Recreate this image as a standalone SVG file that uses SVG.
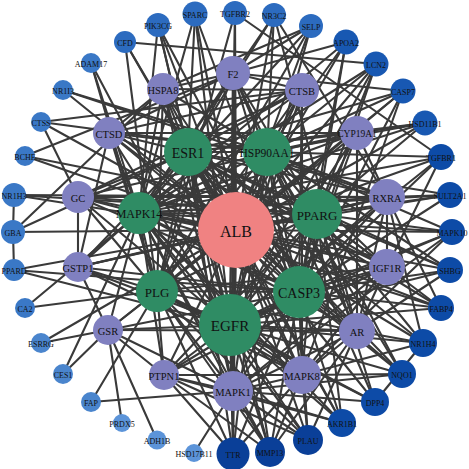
<svg xmlns="http://www.w3.org/2000/svg" width="469" height="469" viewBox="0 0 469 469">
<style>
#edges line{stroke:#3a3a3a;stroke-width:2.1;stroke-linecap:round}
text{font-family:"Liberation Serif","Times New Roman",serif;fill:#111;text-anchor:middle;dominant-baseline:central}
.alb{fill:#f08282}
.grn{fill:#2f8c64}
.pur{fill:#8080c0}
.b1{fill:#0a3f98}
.b2{fill:#0d4ba7}
.b3{fill:#1858b2}
.b4{fill:#2c6bbf}
.b5{fill:#3a78c6}
.b6{fill:#4a85cd}
.b7{fill:#5c94d9}
.s{font-size:8px}
.m{font-size:10.5px}
</style>
<rect width="469" height="469" fill="#fff"/>
<g id="edges">
<line x1="236" y1="230" x2="188" y2="152"/><line x1="236" y1="230" x2="267" y2="152"/><line x1="236" y1="230" x2="139" y2="213"/><line x1="236" y1="230" x2="317" y2="214"/><line x1="236" y1="230" x2="157" y2="291"/><line x1="236" y1="230" x2="299" y2="292"/><line x1="236" y1="230" x2="230" y2="325"/>
<line x1="188" y1="152" x2="267" y2="152"/><line x1="188" y1="152" x2="139" y2="213"/><line x1="188" y1="152" x2="317" y2="214"/><line x1="188" y1="152" x2="157" y2="291"/><line x1="188" y1="152" x2="299" y2="292"/><line x1="188" y1="152" x2="230" y2="325"/>
<line x1="267" y1="152" x2="139" y2="213"/><line x1="267" y1="152" x2="317" y2="214"/><line x1="267" y1="152" x2="157" y2="291"/><line x1="267" y1="152" x2="299" y2="292"/><line x1="267" y1="152" x2="230" y2="325"/>
<line x1="139" y1="213" x2="317" y2="214"/><line x1="139" y1="213" x2="157" y2="291"/><line x1="139" y1="213" x2="299" y2="292"/><line x1="139" y1="213" x2="230" y2="325"/>
<line x1="317" y1="214" x2="157" y2="291"/><line x1="317" y1="214" x2="299" y2="292"/><line x1="317" y1="214" x2="230" y2="325"/>
<line x1="157" y1="291" x2="299" y2="292"/><line x1="157" y1="291" x2="230" y2="325"/><line x1="299" y1="292" x2="230" y2="325"/>
<line x1="236" y1="230" x2="163" y2="89"/><line x1="236" y1="230" x2="233" y2="73"/><line x1="236" y1="230" x2="302" y2="90"/><line x1="236" y1="230" x2="109" y2="133"/><line x1="236" y1="230" x2="357" y2="133"/><line x1="236" y1="230" x2="78" y2="197"/><line x1="236" y1="230" x2="387" y2="197"/><line x1="236" y1="230" x2="78" y2="267"/><line x1="236" y1="230" x2="387" y2="267"/><line x1="236" y1="230" x2="108" y2="330"/><line x1="236" y1="230" x2="357" y2="331"/><line x1="236" y1="230" x2="164" y2="375"/><line x1="236" y1="230" x2="302" y2="375"/><line x1="236" y1="230" x2="233" y2="391"/>
<line x1="236" y1="230" x2="235" y2="13"/><line x1="236" y1="230" x2="274" y2="15"/><line x1="236" y1="230" x2="311" y2="26"/><line x1="236" y1="230" x2="346" y2="42"/><line x1="236" y1="230" x2="376" y2="64"/><line x1="236" y1="230" x2="403" y2="91"/><line x1="236" y1="230" x2="425" y2="123"/><line x1="236" y1="230" x2="441" y2="157"/><line x1="236" y1="230" x2="450" y2="195"/><line x1="236" y1="230" x2="452" y2="232"/><line x1="236" y1="230" x2="450" y2="270"/><line x1="236" y1="230" x2="441" y2="308"/><line x1="236" y1="230" x2="423" y2="343"/><line x1="236" y1="230" x2="402" y2="374"/><line x1="236" y1="230" x2="375" y2="402"/><line x1="236" y1="230" x2="342" y2="423"/><line x1="236" y1="230" x2="308" y2="440"/><line x1="236" y1="230" x2="270" y2="452"/><line x1="236" y1="230" x2="233" y2="454"/><line x1="236" y1="230" x2="63" y2="90"/><line x1="236" y1="230" x2="13" y2="232"/><line x1="236" y1="230" x2="14" y2="270"/><line x1="236" y1="230" x2="14" y2="195"/><line x1="236" y1="230" x2="125" y2="42"/><line x1="236" y1="230" x2="195" y2="14"/><line x1="236" y1="230" x2="158" y2="25"/><line x1="236" y1="230" x2="41" y2="343"/><line x1="236" y1="230" x2="41" y2="122"/><line x1="236" y1="230" x2="25" y2="156"/>
<line x1="163" y1="89" x2="188" y2="152"/><line x1="163" y1="89" x2="267" y2="152"/><line x1="163" y1="89" x2="230" y2="325"/><line x1="163" y1="89" x2="139" y2="213"/><line x1="163" y1="89" x2="299" y2="292"/><line x1="163" y1="89" x2="157" y2="291"/>
<line x1="233" y1="73" x2="157" y2="291"/><line x1="233" y1="73" x2="230" y2="325"/><line x1="233" y1="73" x2="188" y2="152"/><line x1="233" y1="73" x2="267" y2="152"/><line x1="233" y1="73" x2="139" y2="213"/><line x1="233" y1="73" x2="299" y2="292"/><line x1="233" y1="73" x2="317" y2="214"/>
<line x1="302" y1="90" x2="299" y2="292"/><line x1="302" y1="90" x2="267" y2="152"/><line x1="302" y1="90" x2="188" y2="152"/><line x1="302" y1="90" x2="157" y2="291"/><line x1="302" y1="90" x2="230" y2="325"/><line x1="302" y1="90" x2="139" y2="213"/>
<line x1="109" y1="133" x2="188" y2="152"/><line x1="109" y1="133" x2="267" y2="152"/><line x1="109" y1="133" x2="230" y2="325"/><line x1="109" y1="133" x2="299" y2="292"/><line x1="109" y1="133" x2="157" y2="291"/><line x1="109" y1="133" x2="139" y2="213"/>
<line x1="357" y1="133" x2="188" y2="152"/><line x1="357" y1="133" x2="267" y2="152"/><line x1="357" y1="133" x2="317" y2="214"/><line x1="357" y1="133" x2="299" y2="292"/><line x1="357" y1="133" x2="230" y2="325"/><line x1="357" y1="133" x2="139" y2="213"/>
<line x1="78" y1="197" x2="139" y2="213"/><line x1="78" y1="197" x2="188" y2="152"/><line x1="78" y1="197" x2="317" y2="214"/><line x1="78" y1="197" x2="157" y2="291"/><line x1="78" y1="197" x2="230" y2="325"/><line x1="78" y1="197" x2="299" y2="292"/>
<line x1="387" y1="197" x2="317" y2="214"/><line x1="387" y1="197" x2="188" y2="152"/><line x1="387" y1="197" x2="267" y2="152"/><line x1="387" y1="197" x2="139" y2="213"/><line x1="387" y1="197" x2="230" y2="325"/><line x1="387" y1="197" x2="299" y2="292"/>
<line x1="78" y1="267" x2="157" y2="291"/><line x1="78" y1="267" x2="139" y2="213"/><line x1="78" y1="267" x2="188" y2="152"/><line x1="78" y1="267" x2="230" y2="325"/><line x1="78" y1="267" x2="299" y2="292"/><line x1="78" y1="267" x2="317" y2="214"/>
<line x1="387" y1="267" x2="230" y2="325"/><line x1="387" y1="267" x2="299" y2="292"/><line x1="387" y1="267" x2="317" y2="214"/><line x1="387" y1="267" x2="188" y2="152"/><line x1="387" y1="267" x2="267" y2="152"/><line x1="387" y1="267" x2="139" y2="213"/><line x1="387" y1="267" x2="157" y2="291"/>
<line x1="108" y1="330" x2="230" y2="325"/><line x1="108" y1="330" x2="157" y2="291"/><line x1="108" y1="330" x2="139" y2="213"/><line x1="108" y1="330" x2="299" y2="292"/>
<line x1="357" y1="331" x2="230" y2="325"/><line x1="357" y1="331" x2="299" y2="292"/><line x1="357" y1="331" x2="317" y2="214"/><line x1="357" y1="331" x2="188" y2="152"/><line x1="357" y1="331" x2="267" y2="152"/><line x1="357" y1="331" x2="139" y2="213"/><line x1="357" y1="331" x2="157" y2="291"/>
<line x1="164" y1="375" x2="230" y2="325"/><line x1="164" y1="375" x2="317" y2="214"/><line x1="164" y1="375" x2="157" y2="291"/><line x1="164" y1="375" x2="299" y2="292"/><line x1="164" y1="375" x2="139" y2="213"/>
<line x1="302" y1="375" x2="230" y2="325"/><line x1="302" y1="375" x2="299" y2="292"/><line x1="302" y1="375" x2="139" y2="213"/><line x1="302" y1="375" x2="157" y2="291"/><line x1="302" y1="375" x2="317" y2="214"/><line x1="302" y1="375" x2="188" y2="152"/><line x1="302" y1="375" x2="267" y2="152"/>
<line x1="233" y1="391" x2="230" y2="325"/><line x1="233" y1="391" x2="299" y2="292"/><line x1="233" y1="391" x2="157" y2="291"/><line x1="233" y1="391" x2="139" y2="213"/><line x1="233" y1="391" x2="188" y2="152"/><line x1="233" y1="391" x2="267" y2="152"/><line x1="233" y1="391" x2="317" y2="214"/>
<line x1="163" y1="89" x2="302" y2="90"/><line x1="163" y1="89" x2="109" y2="133"/><line x1="163" y1="89" x2="233" y2="73"/><line x1="163" y1="89" x2="233" y2="391"/><line x1="233" y1="73" x2="302" y2="90"/><line x1="233" y1="73" x2="109" y2="133"/><line x1="233" y1="73" x2="357" y2="331"/><line x1="233" y1="73" x2="233" y2="391"/><line x1="302" y1="90" x2="109" y2="133"/><line x1="302" y1="90" x2="78" y2="197"/><line x1="302" y1="90" x2="302" y2="375"/><line x1="109" y1="133" x2="357" y2="133"/><line x1="109" y1="133" x2="78" y2="267"/><line x1="109" y1="133" x2="387" y2="267"/><line x1="357" y1="133" x2="357" y2="331"/><line x1="357" y1="133" x2="387" y2="197"/><line x1="357" y1="133" x2="78" y2="197"/><line x1="78" y1="197" x2="78" y2="267"/><line x1="78" y1="197" x2="387" y2="197"/><line x1="387" y1="197" x2="357" y2="331"/><line x1="387" y1="197" x2="387" y2="267"/><line x1="387" y1="197" x2="78" y2="267"/><line x1="78" y1="267" x2="108" y2="330"/><line x1="78" y1="267" x2="302" y2="375"/><line x1="387" y1="267" x2="233" y2="391"/><line x1="387" y1="267" x2="302" y2="375"/><line x1="387" y1="267" x2="357" y2="331"/><line x1="387" y1="267" x2="164" y2="375"/><line x1="108" y1="330" x2="233" y2="391"/><line x1="108" y1="330" x2="164" y2="375"/><line x1="108" y1="330" x2="357" y2="331"/><line x1="357" y1="331" x2="233" y2="391"/><line x1="357" y1="331" x2="302" y2="375"/><line x1="164" y1="375" x2="233" y2="391"/><line x1="164" y1="375" x2="302" y2="375"/><line x1="302" y1="375" x2="233" y2="391"/>
<line x1="195" y1="14" x2="188" y2="152"/><line x1="195" y1="14" x2="139" y2="213"/><line x1="195" y1="14" x2="299" y2="292"/><line x1="195" y1="14" x2="230" y2="325"/>
<line x1="235" y1="13" x2="230" y2="325"/><line x1="235" y1="13" x2="157" y2="291"/><line x1="235" y1="13" x2="441" y2="157"/><line x1="235" y1="13" x2="233" y2="391"/>
<line x1="274" y1="15" x2="267" y2="152"/><line x1="274" y1="15" x2="188" y2="152"/><line x1="274" y1="15" x2="357" y2="331"/><line x1="274" y1="15" x2="387" y2="197"/><line x1="274" y1="15" x2="139" y2="213"/>
<line x1="311" y1="26" x2="233" y2="73"/><line x1="311" y1="26" x2="157" y2="291"/><line x1="311" y1="26" x2="230" y2="325"/><line x1="311" y1="26" x2="139" y2="213"/><line x1="311" y1="26" x2="163" y2="89"/>
<line x1="346" y1="42" x2="233" y2="73"/><line x1="346" y1="42" x2="317" y2="214"/><line x1="346" y1="42" x2="267" y2="152"/><line x1="346" y1="42" x2="139" y2="213"/><line x1="346" y1="42" x2="299" y2="292"/>
<line x1="376" y1="64" x2="125" y2="42"/><line x1="376" y1="64" x2="317" y2="214"/><line x1="376" y1="64" x2="230" y2="325"/><line x1="376" y1="64" x2="139" y2="213"/><line x1="376" y1="64" x2="267" y2="152"/><line x1="376" y1="64" x2="299" y2="292"/>
<line x1="403" y1="91" x2="299" y2="292"/><line x1="403" y1="91" x2="267" y2="152"/><line x1="403" y1="91" x2="188" y2="152"/><line x1="403" y1="91" x2="233" y2="73"/><line x1="403" y1="91" x2="302" y2="375"/><line x1="403" y1="91" x2="157" y2="291"/>
<line x1="425" y1="123" x2="357" y2="133"/><line x1="425" y1="123" x2="317" y2="214"/><line x1="425" y1="123" x2="267" y2="152"/><line x1="425" y1="123" x2="188" y2="152"/><line x1="425" y1="123" x2="139" y2="213"/>
<line x1="441" y1="157" x2="230" y2="325"/><line x1="441" y1="157" x2="267" y2="152"/><line x1="441" y1="157" x2="139" y2="213"/><line x1="441" y1="157" x2="299" y2="292"/><line x1="441" y1="157" x2="387" y2="267"/>
<line x1="450" y1="195" x2="188" y2="152"/><line x1="450" y1="195" x2="317" y2="214"/><line x1="450" y1="195" x2="387" y2="197"/><line x1="450" y1="195" x2="299" y2="292"/><line x1="450" y1="195" x2="139" y2="213"/>
<line x1="452" y1="232" x2="302" y2="375"/><line x1="452" y1="232" x2="139" y2="213"/><line x1="452" y1="232" x2="233" y2="391"/><line x1="452" y1="232" x2="230" y2="325"/><line x1="452" y1="232" x2="299" y2="292"/><line x1="452" y1="232" x2="267" y2="152"/><line x1="452" y1="232" x2="317" y2="214"/>
<line x1="450" y1="270" x2="357" y2="331"/><line x1="450" y1="270" x2="188" y2="152"/><line x1="450" y1="270" x2="230" y2="325"/><line x1="450" y1="270" x2="299" y2="292"/><line x1="450" y1="270" x2="267" y2="152"/><line x1="450" y1="270" x2="317" y2="214"/>
<line x1="441" y1="308" x2="317" y2="214"/><line x1="441" y1="308" x2="387" y2="197"/><line x1="441" y1="308" x2="139" y2="213"/><line x1="441" y1="308" x2="188" y2="152"/><line x1="441" y1="308" x2="230" y2="325"/><line x1="441" y1="308" x2="299" y2="292"/>
<line x1="423" y1="343" x2="387" y2="197"/><line x1="423" y1="343" x2="317" y2="214"/><line x1="423" y1="343" x2="375" y2="402"/><line x1="423" y1="343" x2="357" y2="331"/><line x1="423" y1="343" x2="188" y2="152"/><line x1="423" y1="343" x2="302" y2="375"/><line x1="423" y1="343" x2="230" y2="325"/>
<line x1="402" y1="374" x2="299" y2="292"/><line x1="402" y1="374" x2="230" y2="325"/><line x1="402" y1="374" x2="302" y2="375"/><line x1="402" y1="374" x2="233" y2="391"/><line x1="402" y1="374" x2="188" y2="152"/><line x1="402" y1="374" x2="267" y2="152"/><line x1="402" y1="374" x2="317" y2="214"/>
<line x1="375" y1="402" x2="157" y2="291"/><line x1="375" y1="402" x2="230" y2="325"/><line x1="375" y1="402" x2="317" y2="214"/><line x1="375" y1="402" x2="233" y2="391"/><line x1="375" y1="402" x2="267" y2="152"/>
<line x1="342" y1="423" x2="230" y2="325"/><line x1="342" y1="423" x2="233" y2="391"/><line x1="342" y1="423" x2="317" y2="214"/><line x1="342" y1="423" x2="299" y2="292"/><line x1="342" y1="423" x2="188" y2="152"/><line x1="342" y1="423" x2="139" y2="213"/><line x1="342" y1="423" x2="164" y2="375"/>
<line x1="308" y1="440" x2="157" y2="291"/><line x1="308" y1="440" x2="230" y2="325"/><line x1="308" y1="440" x2="302" y2="375"/><line x1="308" y1="440" x2="233" y2="391"/><line x1="308" y1="440" x2="299" y2="292"/><line x1="308" y1="440" x2="139" y2="213"/><line x1="308" y1="440" x2="357" y2="331"/><line x1="308" y1="440" x2="164" y2="375"/>
<line x1="270" y1="452" x2="230" y2="325"/><line x1="270" y1="452" x2="139" y2="213"/><line x1="270" y1="452" x2="302" y2="375"/><line x1="270" y1="452" x2="233" y2="391"/><line x1="270" y1="452" x2="157" y2="291"/><line x1="270" y1="452" x2="188" y2="152"/><line x1="270" y1="452" x2="299" y2="292"/><line x1="270" y1="452" x2="357" y2="331"/><line x1="270" y1="452" x2="164" y2="375"/>
<line x1="233" y1="454" x2="230" y2="325"/><line x1="233" y1="454" x2="233" y2="391"/><line x1="233" y1="454" x2="164" y2="375"/><line x1="233" y1="454" x2="188" y2="152"/><line x1="233" y1="454" x2="157" y2="291"/><line x1="233" y1="454" x2="302" y2="375"/><line x1="233" y1="454" x2="299" y2="292"/><line x1="233" y1="454" x2="267" y2="152"/>
<line x1="194" y1="453" x2="233" y2="391"/>
<line x1="157" y1="440" x2="108" y2="330"/>
<line x1="122" y1="423" x2="108" y2="330"/>
<line x1="91" y1="402" x2="233" y2="391"/><line x1="91" y1="402" x2="157" y2="291"/>
<line x1="63" y1="374" x2="108" y2="330"/><line x1="63" y1="374" x2="139" y2="213"/>
<line x1="41" y1="343" x2="108" y2="330"/>
<line x1="25" y1="308" x2="139" y2="213"/><line x1="25" y1="308" x2="157" y2="291"/>
<line x1="14" y1="270" x2="13" y2="232"/><line x1="14" y1="270" x2="299" y2="292"/><line x1="14" y1="270" x2="230" y2="325"/>
<line x1="13" y1="232" x2="14" y2="195"/><line x1="13" y1="232" x2="163" y2="89"/><line x1="13" y1="232" x2="188" y2="152"/>
<line x1="14" y1="195" x2="387" y2="197"/><line x1="14" y1="195" x2="317" y2="214"/>
<line x1="25" y1="156" x2="317" y2="214"/><line x1="25" y1="156" x2="233" y2="73"/>
<line x1="41" y1="122" x2="302" y2="90"/><line x1="41" y1="122" x2="267" y2="152"/><line x1="41" y1="122" x2="78" y2="197"/>
<line x1="63" y1="90" x2="387" y2="197"/><line x1="63" y1="90" x2="267" y2="152"/>
<line x1="91" y1="63" x2="139" y2="213"/><line x1="91" y1="63" x2="157" y2="291"/><line x1="91" y1="63" x2="230" y2="325"/>
<line x1="125" y1="42" x2="188" y2="152"/><line x1="125" y1="42" x2="157" y2="291"/>
<line x1="158" y1="25" x2="188" y2="152"/><line x1="158" y1="25" x2="139" y2="213"/><line x1="158" y1="25" x2="230" y2="325"/><line x1="158" y1="25" x2="299" y2="292"/>
</g>
<g id="n-ALB"><circle class="alb" cx="236" cy="230" r="38"/><text x="236" y="231" style="font-size:16px">ALB</text></g>
<g id="n-ESR1"><circle class="grn" cx="188" cy="152" r="24"/><text x="188" y="153" style="font-size:14px">ESR1</text></g>
<g id="n-HSP90AA1"><circle class="grn" cx="267" cy="152" r="24"/><text x="267" y="153" style="font-size:11.5px">HSP90AA1</text></g>
<g id="n-MAPK14"><circle class="grn" cx="139" cy="213" r="21"/><text x="139" y="214" style="font-size:12px">MAPK14</text></g>
<g id="n-PPARG"><circle class="grn" cx="317" cy="214" r="25"/><text x="317" y="215" style="font-size:13px">PPARG</text></g>
<g id="n-PLG"><circle class="grn" cx="157" cy="291" r="21"/><text x="157" y="292" style="font-size:13px">PLG</text></g>
<g id="n-CASP3"><circle class="grn" cx="299" cy="292" r="26"/><text x="299" y="293" style="font-size:14px">CASP3</text></g>
<g id="n-EGFR"><circle class="grn" cx="230" cy="325" r="31"/><text x="230" y="326" style="font-size:15px">EGFR</text></g>
<g id="n-HSPA8"><circle class="pur" cx="163" cy="89" r="16"/><text class="m" x="163" y="90">HSPA8</text></g>
<g id="n-F2"><circle class="pur" cx="233" cy="73" r="17"/><text class="m" x="233" y="74">F2</text></g>
<g id="n-CTSB"><circle class="pur" cx="302" cy="90" r="17"/><text class="m" x="302" y="91">CTSB</text></g>
<g id="n-CTSD"><circle class="pur" cx="109" cy="133" r="16"/><text class="m" x="109" y="134">CTSD</text></g>
<g id="n-CYP19A1"><circle class="pur" cx="357" cy="133" r="17"/><text class="m" x="357" y="134" style="font-size:9.5px">CYP19A1</text></g>
<g id="n-GC"><circle class="pur" cx="78" cy="197" r="16"/><text class="m" x="78" y="198">GC</text></g>
<g id="n-RXRA"><circle class="pur" cx="387" cy="197" r="18"/><text class="m" x="387" y="198">RXRA</text></g>
<g id="n-GSTP1"><circle class="pur" cx="78" cy="267" r="15"/><text class="m" x="78" y="268">GSTP1</text></g>
<g id="n-IGF1R"><circle class="pur" cx="387" cy="267" r="18"/><text class="m" x="387" y="268">IGF1R</text></g>
<g id="n-GSR"><circle class="pur" cx="108" cy="330" r="15"/><text class="m" x="108" y="331">GSR</text></g>
<g id="n-AR"><circle class="pur" cx="357" cy="331" r="18"/><text class="m" x="357" y="332">AR</text></g>
<g id="n-PTPN1"><circle class="pur" cx="164" cy="375" r="15"/><text class="m" x="164" y="376">PTPN1</text></g>
<g id="n-MAPK8"><circle class="pur" cx="302" cy="375" r="19"/><text class="m" x="302" y="376">MAPK8</text></g>
<g id="n-MAPK1"><circle class="pur" cx="233" cy="391" r="20"/><text class="m" x="233" y="392">MAPK1</text></g>
<g id="n-TGFBR2"><circle class="b4" cx="235" cy="13" r="12"/><text class="s" x="235" y="14">TGFBR2</text></g>
<g id="n-NR3C2"><circle class="b4" cx="274" cy="15" r="12"/><text class="s" x="274" y="16">NR3C2</text></g>
<g id="n-SELP"><circle class="b4" cx="311" cy="26" r="12"/><text class="s" x="311" y="27">SELP</text></g>
<g id="n-APOA2"><circle class="b3" cx="346" cy="42" r="12.5"/><text class="s" x="346" y="43">APOA2</text></g>
<g id="n-LCN2"><circle class="b3" cx="376" cy="64" r="12.5"/><text class="s" x="376" y="65">LCN2</text></g>
<g id="n-CASP7"><circle class="b3" cx="403" cy="91" r="12.5"/><text class="s" x="403" y="92">CASP7</text></g>
<g id="n-HSD11B1"><circle class="b3" cx="425" cy="123" r="12.5"/><text class="s" x="425" y="124">HSD11B1</text></g>
<g id="n-TGFBR1"><circle class="b2" cx="441" cy="157" r="13"/><text class="s" x="441" y="158">TGFBR1</text></g>
<g id="n-SULT2A1"><circle class="b2" cx="450" cy="195" r="13"/><text class="s" x="450" y="196">SULT2A1</text></g>
<g id="n-MAPK10"><circle class="b2" cx="452" cy="232" r="13"/><text class="s" x="452" y="233">MAPK10</text></g>
<g id="n-SHBG"><circle class="b2" cx="450" cy="270" r="13"/><text class="s" x="450" y="271">SHBG</text></g>
<g id="n-FABP4"><circle class="b2" cx="441" cy="308" r="13"/><text class="s" x="441" y="309">FABP4</text></g>
<g id="n-NR1H4"><circle class="b2" cx="423" cy="343" r="14"/><text class="s" x="423" y="344">NR1H4</text></g>
<g id="n-NQO1"><circle class="b2" cx="402" cy="374" r="14"/><text class="s" x="402" y="375">NQO1</text></g>
<g id="n-DPP4"><circle class="b2" cx="375" cy="402" r="14"/><text class="s" x="375" y="403">DPP4</text></g>
<g id="n-AKR1B1"><circle class="b2" cx="342" cy="423" r="14"/><text class="s" x="342" y="424">AKR1B1</text></g>
<g id="n-PLAU"><circle class="b1" cx="308" cy="440" r="15"/><text class="s" x="308" y="441">PLAU</text></g>
<g id="n-MMP13"><circle class="b1" cx="270" cy="452" r="15"/><text class="s" x="270" y="453">MMP13</text></g>
<g id="n-TTR"><circle class="b1" cx="233" cy="454" r="16.5"/><text class="s" x="233" y="455">TTR</text></g>
<g id="n-HSD17B11"><circle class="b7" cx="194" cy="453" r="9"/><text class="s" x="194" y="454">HSD17B11</text></g>
<g id="n-ADH1B"><circle class="b7" cx="157" cy="440" r="9.5"/><text class="s" x="157" y="441">ADH1B</text></g>
<g id="n-PRDX5"><circle class="b7" cx="122" cy="423" r="9"/><text class="s" x="122" y="424">PRDX5</text></g>
<g id="n-FAP"><circle class="b6" cx="91" cy="402" r="10"/><text class="s" x="91" y="403">FAP</text></g>
<g id="n-CES1"><circle class="b6" cx="63" cy="374" r="10"/><text class="s" x="63" y="375">CES1</text></g>
<g id="n-ESRRG"><circle class="b6" cx="41" cy="343" r="10"/><text class="s" x="41" y="344">ESRRG</text></g>
<g id="n-CA2"><circle class="b5" cx="25" cy="308" r="10"/><text class="s" x="25" y="309">CA2</text></g>
<g id="n-PPARD"><circle class="b5" cx="14" cy="270" r="11"/><text class="s" x="14" y="271">PPARD</text></g>
<g id="n-GBA"><circle class="b5" cx="13" cy="232" r="12"/><text class="s" x="13" y="233">GBA</text></g>
<g id="n-NR1H3"><circle class="b5" cx="14" cy="195" r="12"/><text class="s" x="14" y="196">NR1H3</text></g>
<g id="n-BCHE"><circle class="b5" cx="25" cy="156" r="10"/><text class="s" x="25" y="157">BCHE</text></g>
<g id="n-CTSS"><circle class="b5" cx="41" cy="122" r="10"/><text class="s" x="41" y="123">CTSS</text></g>
<g id="n-NR1I3"><circle class="b5" cx="63" cy="90" r="10"/><text class="s" x="63" y="91">NR1I3</text></g>
<g id="n-ADAM17"><circle class="b5" cx="91" cy="63" r="10"/><text class="s" x="91" y="64">ADAM17</text></g>
<g id="n-CFD"><circle class="b4" cx="125" cy="42" r="11"/><text class="s" x="125" y="43">CFD</text></g>
<g id="n-PIK3CG"><circle class="b4" cx="158" cy="25" r="12"/><text class="s" x="158" y="26">PIK3CG</text></g>
<g id="n-SPARC"><circle class="b4" cx="195" cy="14" r="12.5"/><text class="s" x="195" y="15">SPARC</text></g>
</svg>
